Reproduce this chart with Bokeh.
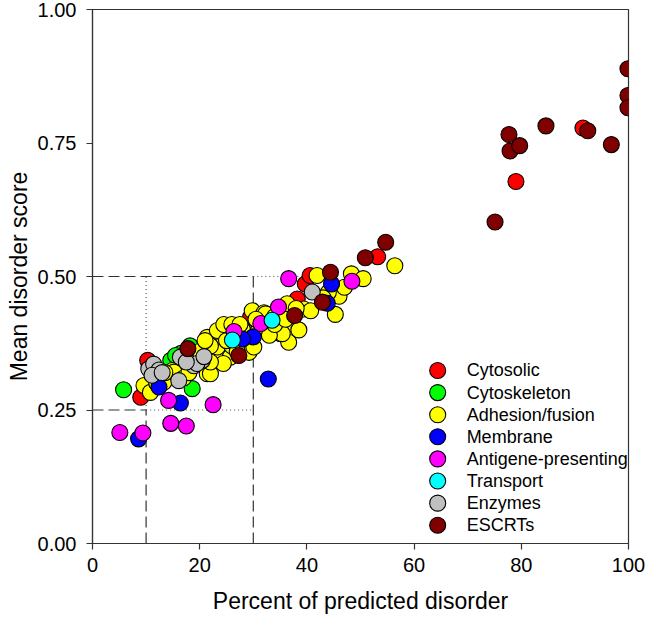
from bokeh.plotting import figure
from bokeh.models import Range1d, FixedTicker
from bokeh.core.properties import value
from bokeh.embed import file_html
from bokeh.resources import INLINE

# ---------------- data ----------------
categories = ["Cytosolic", "Cytoskeleton", "Adhesion/fusion", "Membrane",
              "Antigene-presenting", "Transport", "Enzymes", "ESCRTs"]
colors = ["#FF0000", "#00FF00", "#FFFF00", "#0000FF",
          "#FF00FF", "#00FFFF", "#C0C0C0", "#800000"]

cytosolic_x = [9.0, 10.3, 29.5, 38.2, 39.7, 40.6, 53.2, 79.0, 91.5]
cytosolic_y = [0.274, 0.343, 0.424, 0.458, 0.486, 0.502, 0.537, 0.678, 0.778]

cytoskeleton_x = [5.8, 18.6, 14.6, 16.5, 18.2, 15.5]
cytoskeleton_y = [0.288, 0.290, 0.343, 0.356, 0.370, 0.352]

adhesion_x = [9.6, 10.8, 13.3, 14.9, 15.2, 21.4, 22.0, 21.4, 23.3, 24.5,
              23.6, 25.7, 28.9, 29.2, 30.1, 24.4, 23.3, 29.8, 32.0, 32.3,
              35.1, 36.6, 36.3, 37.3, 35.4, 39.4, 40.7, 41.9, 45.3, 46.0,
              48.3, 50.5, 56.4, 17.0, 19.0, 20.0, 22.0, 26.0, 27.0, 28.0,
              31.0, 33.0, 34.0, 26.0, 22.0, 25.0, 21.0, 13.5, 18.0, 12.0,
              27.5, 30.5, 34.0, 38.0, 44.0, 47.0, 43.0, 38.5, 36.0]
adhesion_y = [0.296, 0.283, 0.302, 0.324, 0.321, 0.318, 0.318, 0.386, 0.399, 0.410,
              0.361, 0.349, 0.368, 0.358, 0.368, 0.337, 0.368, 0.436, 0.432, 0.430,
              0.393, 0.377, 0.449, 0.411, 0.393, 0.439, 0.436, 0.502, 0.429, 0.463,
              0.505, 0.496, 0.520, 0.310, 0.350, 0.360, 0.370, 0.370, 0.360, 0.400,
              0.400, 0.390, 0.410, 0.410, 0.340, 0.380, 0.380, 0.320, 0.320, 0.300,
              0.410, 0.420, 0.425, 0.440, 0.470, 0.480, 0.460, 0.400, 0.420]

membrane_x = [8.6, 12.4, 16.4, 32.8, 30.0, 28.0, 43.8, 44.6]
membrane_y = [0.196, 0.293, 0.263, 0.308, 0.387, 0.383, 0.450, 0.486]

antigen_x = [5.1, 9.4, 14.6, 17.5, 14.2, 22.5, 26.4, 31.4, 34.7, 36.6, 48.4]
antigen_y = [0.208, 0.207, 0.225, 0.220, 0.268, 0.260, 0.397, 0.412, 0.443, 0.496, 0.491]

transport_x = [26.1, 33.5]
transport_y = [0.381, 0.418]

enzymes_x = [10.5, 11.4, 12.4, 11.1, 16.1, 16.4, 18.9, 20.5, 19.5, 17.5, 20.8, 13.0, 41.0]
enzymes_y = [0.327, 0.336, 0.325, 0.315, 0.305, 0.349, 0.333, 0.343, 0.337, 0.340, 0.350, 0.320, 0.471]

escrts_x = [17.8, 27.3, 37.7, 42.9, 44.4, 50.9, 54.7, 75.1, 77.7, 77.9,
            79.7, 84.6, 92.4, 96.8, 99.9, 99.9, 99.9]
escrts_y = [0.365, 0.352, 0.427, 0.452, 0.508, 0.535, 0.564, 0.602, 0.766, 0.735,
            0.745, 0.782, 0.773, 0.747, 0.889, 0.839, 0.816]

series = [(cytosolic_x, cytosolic_y), (cytoskeleton_x, cytoskeleton_y),
          (adhesion_x, adhesion_y), (membrane_x, membrane_y),
          (antigen_x, antigen_y), (transport_x, transport_y),
          (enzymes_x, enzymes_y), (escrts_x, escrts_y)]

x_ticks = [0, 20, 40, 60, 80, 100]
y_ticks = [0.0, 0.25, 0.5, 0.75, 1.0]

# reference (threshold) lines
dashed_xs = [[0, 30], [30, 30], [0, 10], [10, 10]]
dashed_ys = [[0.5, 0.5], [0, 0.5], [0.25, 0.25], [0, 0.25]]
dotted_xs = [[10, 10], [10, 30], [30, 40]]
dotted_ys = [[0.25, 0.5], [0.25, 0.25], [0.5, 0.5]]

# in-plot legend placement (data units)
legend_marker_x = 64.4
legend_text_x = 69.8
legend_top_y = 0.324
legend_step_y = 0.0414

# ---------------- figure ----------------
FONT = "Liberation Sans"
p = figure(width=645, height=622, output_backend="svg", toolbar_location=None,
           x_range=Range1d(0, 100), y_range=Range1d(0, 1),
           min_border_left=92, min_border_right=17, min_border_top=9,
           min_border_bottom=79)
p.xgrid.visible = False
p.ygrid.visible = False
p.outline_line_color = "#333333"
p.outline_line_width = 1.2
p.background_fill_color = "white"
p.border_fill_color = "white"

p.multi_line(dashed_xs, dashed_ys, line_color="#333333", line_width=1.2, line_dash="11 5")
p.multi_line(dotted_xs, dotted_ys, line_color="#555555", line_width=1.2, line_dash="1 3")

for (xs, ys), c in zip(series, colors):
    p.scatter(xs, ys, size=16, fill_color=c, line_color="black", line_width=1.1)

# legend drawn as glyphs
leg_y = [legend_top_y - i * legend_step_y for i in range(len(categories))]
p.scatter([legend_marker_x] * len(categories), leg_y, size=16, fill_color=colors,
          line_color="black", line_width=1.1)
p.text([legend_text_x] * len(categories), leg_y, text=categories,
       text_font=value(FONT), text_font_size="18px", text_baseline="middle",
       text_align="left", text_color="black")

for ax in (p.xaxis[0], p.yaxis[0]):
    ax.axis_line_color = "#333333"
    ax.axis_line_width = 1.2
    ax.major_tick_line_color = "#333333"
    ax.major_tick_line_width = 1.2
    ax.major_tick_out = 6
    ax.major_tick_in = 0
    ax.minor_tick_line_color = None
    ax.major_label_text_font = FONT
    ax.major_label_text_font_size = "20px"
    ax.major_label_text_color = "black"
    ax.axis_label_text_font = FONT
    ax.axis_label_text_font_size = "23px"
    ax.axis_label_text_font_style = "normal"
    ax.axis_label_text_color = "black"

p.xaxis.ticker = FixedTicker(ticks=x_ticks)
p.yaxis.ticker = FixedTicker(ticks=y_ticks)
p.xaxis.major_label_overrides = {t: str(t) for t in x_ticks}
p.yaxis.major_label_overrides = {t: f"{t:.2f}" for t in y_ticks}
p.xaxis.axis_label = "Percent of predicted disorder"
p.yaxis.axis_label = "Mean disorder score"
p.xaxis.major_label_standoff = 8
p.xaxis.axis_label_standoff = 13
p.yaxis.major_label_standoff = 10
p.yaxis.axis_label_standoff = 3

open("out.html", "w").write(file_html(p, INLINE))
